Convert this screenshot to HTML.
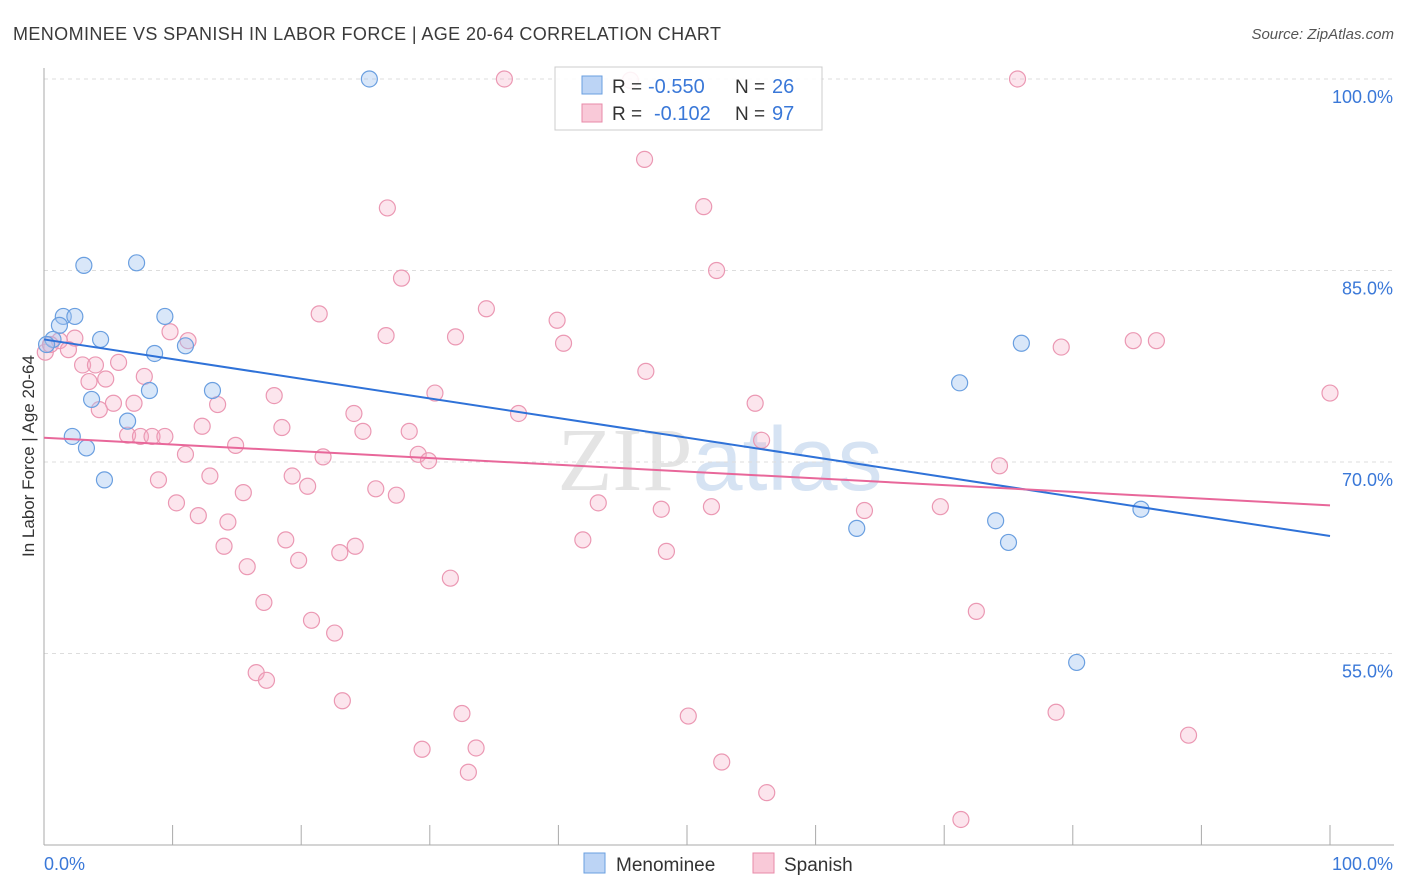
<!DOCTYPE html>
<html><head><meta charset="utf-8"><style>
body{margin:0;background:#fff;font-family:"Liberation Sans",sans-serif;}
svg{display:block}
</style></head><body>
<svg id="chart" width="1406" height="892">
<text x="13" y="40" font-size="18" fill="#3a3a3a" textLength="708">MENOMINEE VS SPANISH IN LABOR FORCE | AGE 20-64 CORRELATION CHART</text>
<text x="1394" y="39" font-size="15" fill="#555" font-style="italic" text-anchor="end">Source: ZipAtlas.com</text>
<text x="720" y="490" font-size="90" fill="#e4e4e4" text-anchor="middle" font-family="Liberation Serif">ZIP<tspan fill="#d6e3f3" font-family="Liberation Sans">atlas</tspan></text>
<g id="grid"></g>
<g id="axes"></g>
<g id="pts"></g>
<g id="trends"></g>
<text transform="translate(34,456) rotate(-90)" font-size="17" fill="#333" text-anchor="middle">In Labor Force | Age 20-64</text>
<g>
<rect x="555" y="67" width="267" height="63" fill="#fff" fill-opacity="0.88" stroke="#ccc"/>
<rect x="582" y="76" width="20" height="18" fill="#bcd4f5" stroke="#6a9fe0"/>
<rect x="582" y="104" width="20" height="18" fill="#f9c9d8" stroke="#e88aa8"/>
<text x="612" y="93" font-size="19" fill="#333">R =</text>
<text x="648" y="93" font-size="20" fill="#3a78d8">-0.550</text>
<text x="735" y="93" font-size="19" fill="#333">N =</text>
<text x="772" y="93" font-size="20" fill="#3a78d8">26</text>
<text x="612" y="120" font-size="19" fill="#333">R =</text>
<text x="654" y="120" font-size="20" fill="#3a78d8">-0.102</text>
<text x="735" y="120" font-size="19" fill="#333">N =</text>
<text x="772" y="120" font-size="20" fill="#3a78d8">97</text>
</g>
<g>
<rect x="584" y="853" width="21" height="20" fill="#bcd4f5" stroke="#6a9fe0"/>
<text x="616" y="871" font-size="19" fill="#333">Menominee</text>
<rect x="753" y="853" width="21" height="20" fill="#f9c9d8" stroke="#e88aa8"/>
<text x="784" y="871" font-size="19" fill="#333">Spanish</text>
</g>
</svg>
<script>
const yTicks=[100,85,70,55];
const yTickLabels=["100.0%","85.0%","70.0%","55.0%"];
const xTicks=[0,10,20,30,40,50,60,70,80,90,100];
const xEndLabels=["0.0%","100.0%"];
const menX=[25.3,3.1,7.2,1.5,2.4,1.2,9.4,0.7,4.4,11.0,8.6,13.1,8.2,3.7,6.5,2.2,3.3,4.7,71.2,76.0,63.2,74.0,75.0,85.3,80.3,0.2];
const menY=[100,85.4,85.6,81.4,81.4,80.7,81.4,79.6,79.6,79.1,78.5,75.6,75.6,74.9,73.2,72.0,71.1,68.6,76.2,79.3,64.8,65.4,63.7,66.3,54.3,79.2];
const spaX=[35.8,75.7,45.6,46.7,26.7,51.3,52.3,27.8,21.4,34.4,39.9,26.6,32.0,40.4,9.8,11.2,1.2,2.4,1.9,0.1,0.5,3.0,4.0,5.8,4.8,3.5,7.8,46.8,30.4,17.9,55.3,13.5,7.0,5.4,4.3,24.1,36.9,12.3,18.5,24.8,28.4,6.5,7.5,8.4,9.4,14.9,55.8,11.0,21.7,29.1,29.9,8.9,12.9,19.3,20.5,25.8,27.4,15.5,10.3,12.0,14.3,43.1,48.0,51.9,63.8,69.7,74.3,100.0,84.7,86.5,79.1,18.8,14.0,24.2,41.9,48.4,23.0,19.8,15.8,31.6,17.1,20.8,22.6,72.5,16.5,17.3,23.2,32.5,50.1,78.7,89.0,33.6,29.4,33.0,52.7,56.2,71.3];
const spaY=[100,100,99.9,93.7,89.9,90.0,85.0,84.4,81.6,82.0,81.1,79.9,79.8,79.3,80.2,79.5,79.5,79.7,78.8,78.6,79.2,77.6,77.6,77.8,76.5,76.3,76.7,77.1,75.4,75.2,74.6,74.5,74.6,74.6,74.1,73.8,73.8,72.8,72.7,72.4,72.4,72.1,72.0,72.0,72.0,71.3,71.7,70.6,70.4,70.6,70.1,68.6,68.9,68.9,68.1,67.9,67.4,67.6,66.8,65.8,65.3,66.8,66.3,66.5,66.2,66.5,69.7,75.4,79.5,79.5,79.0,63.9,63.4,63.4,63.9,63.0,62.9,62.3,61.8,60.9,59.0,57.6,56.6,58.3,53.5,52.9,51.3,50.3,50.1,50.4,48.6,47.6,47.5,45.7,46.5,44.1,42.0];
const menTrend=[79.6,64.2];
const spaTrend=[71.9,66.6];
const X0=44,X1=1330,YB=845,YT=68,YMIN=40,YMAX=100.86;
const sx=v=>X0+(v/100)*(X1-X0);
const sy=v=>YB-(v-YMIN)/(YMAX-YMIN)*(YB-YT);
const NS="http://www.w3.org/2000/svg";
function mk(tag,attrs,parent){const e=document.createElementNS(NS,tag);for(const k in attrs)e.setAttribute(k,attrs[k]);parent.appendChild(e);return e;}
const grid=document.getElementById('grid'),axes=document.getElementById('axes'),pts=document.getElementById('pts'),tr=document.getElementById('trends');
yTicks.forEach((t,i)=>{
 const l=mk('line',{x1:X0,x2:1394,y1:sy(t),y2:sy(t),stroke:'#ddd','stroke-dasharray':'4,4'},grid);
 
 
 const tx=mk('text',{x:1393,y:sy(t)+24,'font-size':18,fill:'#3a78d8','text-anchor':'end'},axes);
 tx.textContent=yTickLabels[i];
 
 
});
const ya=mk('line',{x1:X0,x2:X0,y1:YT,y2:YB,stroke:'#aaa'},axes);


const xa=mk('line',{x1:X0,x2:1394,y1:YB,y2:YB,stroke:'#aaa'},axes);


xTicks.forEach(t=>{
 const l=mk('line',{x1:sx(t),x2:sx(t),y1:YB-20,y2:YB,stroke:'#aaa'},axes);
 
 
});
[[0,'start'],[100,'end']].forEach((p,i)=>{
 const tx=mk('text',{x:i?1393:44,y:870,'font-size':18,fill:'#3a78d8','text-anchor':p[1]},axes);
 tx.textContent=xEndLabels[i];
 
 
});
spaX.forEach((v,i)=>{
 const c=mk('circle',{cx:sx(v),cy:sy(spaY[i]),r:8,fill:'rgba(246,170,195,0.3)',stroke:'#eb98b3','stroke-width':1.2},pts);
 
 
});
menX.forEach((v,i)=>{
 const c=mk('circle',{cx:sx(v),cy:sy(menY[i]),r:8,fill:'rgba(160,195,240,0.4)',stroke:'#6a9fe0','stroke-width':1.2},pts);
 
 
});
const t1=mk('line',{x1:sx(0),x2:sx(100),y1:sy(menTrend[0]),y2:sy(menTrend[1]),stroke:'#2f72d8','stroke-width':2},tr);


const t2=mk('line',{x1:sx(0),x2:sx(100),y1:sy(spaTrend[0]),y2:sy(spaTrend[1]),stroke:'#e8679a','stroke-width':2},tr);


</script>
</body></html>
